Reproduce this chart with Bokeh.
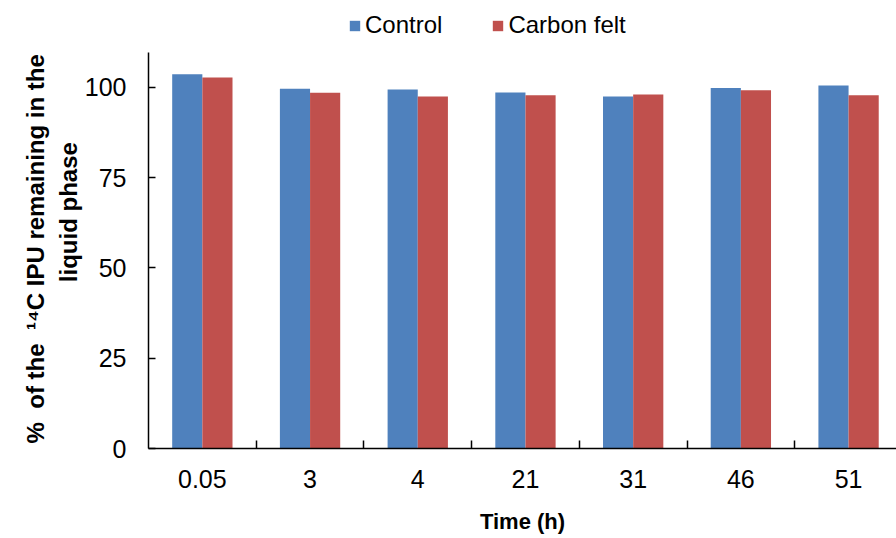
from bokeh.plotting import figure
from bokeh.models import (Range1d, FixedTicker, Legend, LegendItem,
                          ColumnDataSource, LinearAxis)
from bokeh.transform import dodge
from bokeh.embed import file_html
from bokeh.resources import INLINE

# ---- data ----
times = ["0.05", "3", "4", "21", "31", "46", "51"]
control = [103.6, 99.6, 99.4, 98.6, 97.5, 99.8, 100.5]
carbon_felt = [102.7, 98.5, 97.5, 97.8, 98.0, 99.2, 97.8]
y_ticks = [0, 25, 50, 75, 100]
y_axis_top = 109.7

FONT = "Liberation Sans"
BLUE = "#4F81BD"
RED = "#C0504D"
NB = "\u00a0"

centers = [i + 0.5 for i in range(len(times))]
src = ColumnDataSource(dict(x=centers, control=control, carbon=carbon_felt))

p = figure(width=896, height=538, output_backend="svg", toolbar_location=None,
           x_range=Range1d(0, 6.945), y_range=Range1d(0, 123.5),
           x_axis_type=None, y_axis_type=None,
           min_border_left=148, min_border_right=0,
           min_border_top=2, min_border_bottom=90)
p.outline_line_color = None
p.background_fill_color = "white"
p.border_fill_color = "white"

r1 = p.vbar(x=dodge("x", -0.14, range=p.x_range), top="control", width=0.28,
            source=src, fill_color=BLUE, line_color=None)
r2 = p.vbar(x=dodge("x", 0.14, range=p.x_range), top="carbon", width=0.28,
            source=src, fill_color=RED, line_color=None)

xaxis = LinearAxis(
    ticker=FixedTicker(ticks=centers, minor_ticks=list(range(1, len(times)))),
    major_label_overrides={c: t for c, t in zip(centers, times)},
    axis_label="Time (h)")
xaxis.major_tick_in = 0
xaxis.major_tick_out = 0
xaxis.minor_tick_in = 8
xaxis.minor_tick_out = 0
xaxis.minor_tick_line_color = "black"
xaxis.minor_tick_line_width = 1.5
xaxis.axis_line_color = "black"
xaxis.axis_line_width = 1.5
xaxis.major_label_text_font = FONT
xaxis.major_label_text_font_size = "25px"
xaxis.major_label_text_color = "black"
xaxis.major_label_standoff = 21
xaxis.axis_label_text_font = FONT
xaxis.axis_label_text_font_size = "22px"
xaxis.axis_label_text_font_style = "bold"
xaxis.axis_label_text_color = "black"
xaxis.axis_label_standoff = 18
p.add_layout(xaxis, "below")

y_label = ("%" + NB * 2 + "of the" + NB * 2 + "\u00b9\u2074C IPU remaining in the" + NB * 7
           + "\n" + NB * 4 + "liquid phase")
yaxis = LinearAxis(ticker=FixedTicker(ticks=y_ticks), bounds=(0, y_axis_top),
                   axis_label=y_label)
yaxis.major_tick_in = 7
yaxis.major_tick_out = 0
yaxis.major_tick_line_color = "black"
yaxis.major_tick_line_width = 1.5
yaxis.minor_tick_line_color = None
yaxis.axis_line_color = "black"
yaxis.axis_line_width = 1.5
yaxis.major_label_text_font = FONT
yaxis.major_label_text_font_size = "25px"
yaxis.major_label_text_color = "black"
yaxis.major_label_standoff = 22
yaxis.axis_label_text_font = FONT
yaxis.axis_label_text_font_size = "24px"
yaxis.axis_label_text_font_style = "bold"
yaxis.axis_label_text_color = "black"
yaxis.axis_label_standoff = 0
p.add_layout(yaxis, "left")

legend = Legend(items=[LegendItem(label="Control", renderers=[r1]),
                       LegendItem(label="Carbon felt", renderers=[r2])],
                orientation="horizontal", location=(200, 409))
legend.border_line_color = None
legend.background_fill_alpha = 0
legend.label_text_font = FONT
legend.label_text_font_size = "24px"
legend.label_text_color = "black"
legend.glyph_width = 13
legend.glyph_height = 13
legend.label_standoff = 4
legend.spacing = 49
legend.padding = 2
legend.margin = 0
p.add_layout(legend, "center")

open("out.html", "w").write(file_html(p, INLINE))
